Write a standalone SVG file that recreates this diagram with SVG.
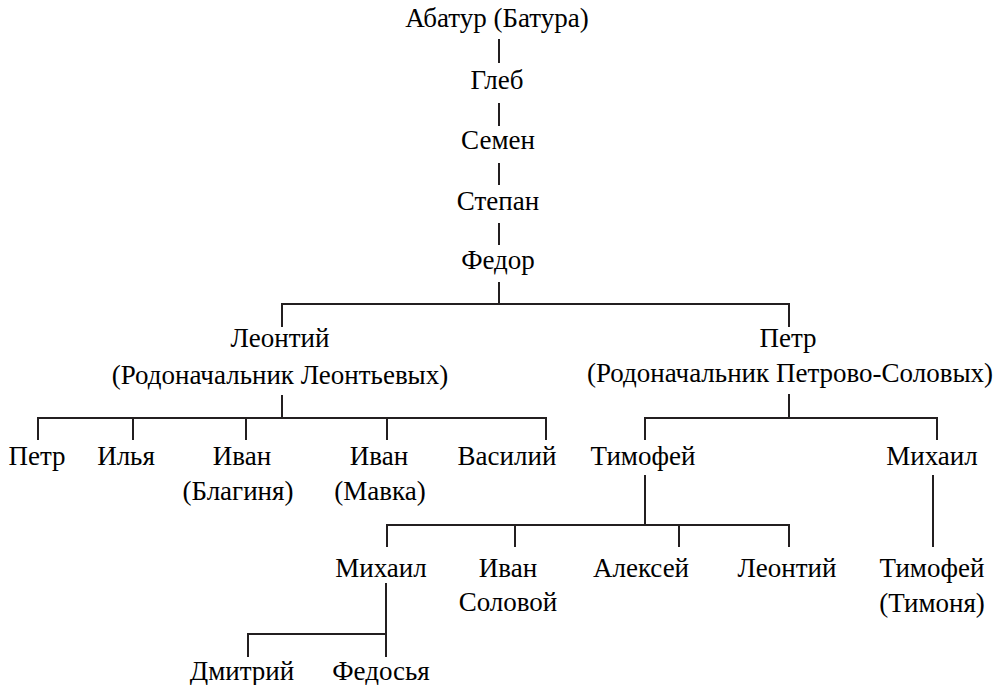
<svg xmlns="http://www.w3.org/2000/svg" width="1000" height="685" viewBox="0 0 1000 685">
<rect width="1000" height="685" fill="#fff"/>
<g id="connectors" stroke="#231f20" stroke-width="2" fill="none">
<line x1="499" y1="39" x2="499" y2="63"/>
<line x1="499" y1="103" x2="499" y2="126"/>
<line x1="499" y1="163" x2="499" y2="185"/>
<line x1="499" y1="223" x2="499" y2="245"/>
<line x1="499" y1="282" x2="499" y2="304"/>
<line x1="281" y1="304" x2="790" y2="304"/>
<line x1="282" y1="303" x2="282" y2="327"/>
<line x1="789" y1="303" x2="789" y2="327"/>
<line x1="282" y1="395" x2="282" y2="418"/>
<line x1="37" y1="418" x2="547" y2="418"/>
<line x1="38" y1="417" x2="38" y2="440"/>
<line x1="133" y1="417" x2="133" y2="440"/>
<line x1="246" y1="417" x2="246" y2="440"/>
<line x1="387" y1="417" x2="387" y2="440"/>
<line x1="546" y1="417" x2="546" y2="440"/>
<line x1="789" y1="394" x2="789" y2="418"/>
<line x1="644" y1="418" x2="938" y2="418"/>
<line x1="645" y1="417" x2="645" y2="440"/>
<line x1="937" y1="417" x2="937" y2="440"/>
<line x1="645" y1="475" x2="645" y2="525"/>
<line x1="933" y1="475" x2="933" y2="547"/>
<line x1="386" y1="525" x2="790" y2="525"/>
<line x1="387" y1="524" x2="387" y2="547"/>
<line x1="515" y1="524" x2="515" y2="547"/>
<line x1="679" y1="524" x2="679" y2="547"/>
<line x1="789" y1="524" x2="789" y2="547"/>
<line x1="386" y1="583" x2="386" y2="657"/>
<line x1="247" y1="634" x2="387" y2="634"/>
<line x1="248" y1="633" x2="248" y2="657"/>
</g>
<g id="abatur"><text x="497" y="27" font-size="27" font-family="Liberation Serif" text-anchor="middle">Абатур (Батура)</text></g>
<g id="gleb"><text x="497" y="89" font-size="27" font-family="Liberation Serif" text-anchor="middle">Глеб</text></g>
<g id="semen"><text x="498" y="149" font-size="27" font-family="Liberation Serif" text-anchor="middle">Семен</text></g>
<g id="stepan"><text x="498" y="210" font-size="27" font-family="Liberation Serif" text-anchor="middle">Степан</text></g>
<g id="fedor"><text x="498" y="269" font-size="27" font-family="Liberation Serif" text-anchor="middle">Федор</text></g>
<g id="leontiy"><text x="280" y="347" font-size="27" font-family="Liberation Serif" text-anchor="middle">Леонтий</text><text x="280" y="384" font-size="27" font-family="Liberation Serif" text-anchor="middle">(Родоначальник Леонтьевых)</text></g>
<g id="petr"><text x="788" y="347" font-size="27" font-family="Liberation Serif" text-anchor="middle">Петр</text><text x="790" y="382" font-size="27" font-family="Liberation Serif" text-anchor="middle">(Родоначальник Петрово-Соловых)</text></g>
<g id="petr2"><text x="37" y="465" font-size="27" font-family="Liberation Serif" text-anchor="middle">Петр</text></g>
<g id="ilya"><text x="126" y="465" font-size="27" font-family="Liberation Serif" text-anchor="middle">Илья</text></g>
<g id="ivan-blaginya"><text x="242" y="465" font-size="27" font-family="Liberation Serif" text-anchor="middle">Иван</text><text x="238" y="500" font-size="27" font-family="Liberation Serif" text-anchor="middle">(Благиня)</text></g>
<g id="ivan-mavka"><text x="379" y="465" font-size="27" font-family="Liberation Serif" text-anchor="middle">Иван</text><text x="380" y="500" font-size="27" font-family="Liberation Serif" text-anchor="middle">(Мавка)</text></g>
<g id="vasiliy"><text x="507" y="465" font-size="27" font-family="Liberation Serif" text-anchor="middle">Василий</text></g>
<g id="timofey"><text x="643" y="465" font-size="27" font-family="Liberation Serif" text-anchor="middle">Тимофей</text></g>
<g id="mikhail"><text x="932" y="465" font-size="27" font-family="Liberation Serif" text-anchor="middle">Михаил</text></g>
<g id="mikhail2"><text x="381" y="577" font-size="27" font-family="Liberation Serif" text-anchor="middle">Михаил</text></g>
<g id="ivan-solovoy"><text x="508" y="577" font-size="27" font-family="Liberation Serif" text-anchor="middle">Иван</text><text x="508" y="611" font-size="27" font-family="Liberation Serif" text-anchor="middle">Соловой</text></g>
<g id="aleksey"><text x="641" y="577" font-size="27" font-family="Liberation Serif" text-anchor="middle">Алексей</text></g>
<g id="leontiy2"><text x="787" y="577" font-size="27" font-family="Liberation Serif" text-anchor="middle">Леонтий</text></g>
<g id="timofey-timonya"><text x="932" y="577" font-size="27" font-family="Liberation Serif" text-anchor="middle">Тимофей</text><text x="932" y="612" font-size="27" font-family="Liberation Serif" text-anchor="middle">(Тимоня)</text></g>
<g id="dmitriy"><text x="242" y="680" font-size="27" font-family="Liberation Serif" text-anchor="middle">Дмитрий</text></g>
<g id="fedosya"><text x="381" y="680" font-size="27" font-family="Liberation Serif" text-anchor="middle">Федосья</text></g>
</svg>
